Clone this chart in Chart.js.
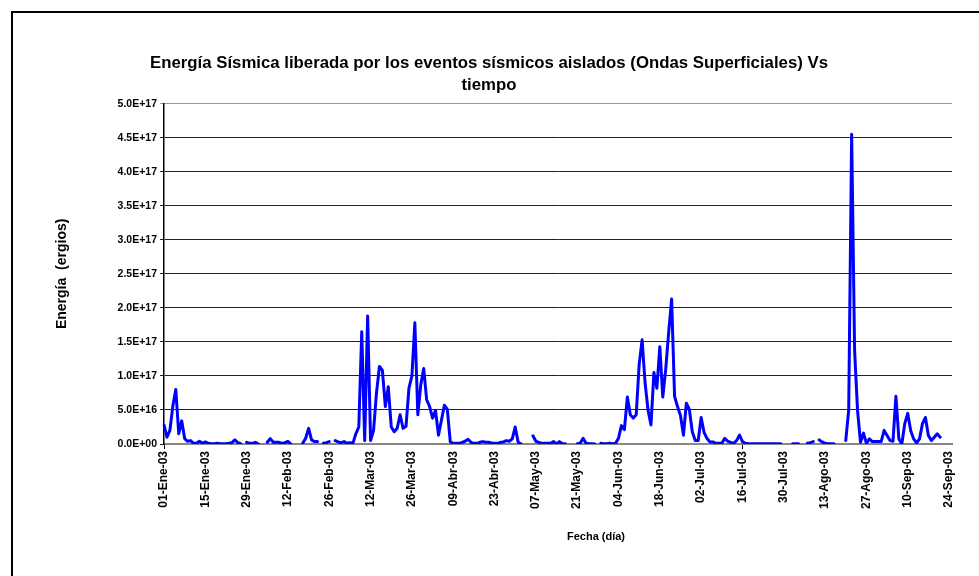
<!DOCTYPE html>
<html lang="es">
<head>
<meta charset="UTF-8">
<title>Energía Sísmica vs tiempo</title>
<script src="https://cdn.jsdelivr.net/npm/chart.js"></script>
<style>
  html, body { margin: 0; padding: 0; background: #fff; }
  #wrap { position: relative; width: 979px; height: 576px; overflow: hidden; }
  #marco { position: absolute; left: 11px; top: 11px; width: 1000px; height: 620px;
           border: 2px solid #000; pointer-events: none; }
</style>
</head>
<body>
<div id="wrap">
  <canvas id="grafico" width="979" height="576"></canvas>
  <div id="marco"></div>
</div>
<script>
// etiquetas visibles del eje X (una cada 14 días)
const etiquetasEje = ['01-Ene-03', '15-Ene-03', '29-Ene-03', '12-Feb-03', '26-Feb-03', '12-Mar-03',
  '26-Mar-03', '09-Abr-03', '23-Abr-03', '07-May-03', '21-May-03', '04-Jun-03', '18-Jun-03',
  '02-Jul-03', '16-Jul-03', '30-Jul-03', '13-Ago-03', '27-Ago-03', '10-Sep-03', '24-Sep-03'];

// etiquetas del eje Y
const etiquetasY = ['0.0E+00', '5.0E+16', '1.0E+17', '1.5E+17', '2.0E+17', '2.5E+17',
  '3.0E+17', '3.5E+17', '4.0E+17', '4.5E+17', '5.0E+17'];

const meses = ['Ene', 'Feb', 'Mar', 'Abr', 'May', 'Jun', 'Jul', 'Ago', 'Sep', 'Oct', 'Nov', 'Dic'];
const numDias = 268; // 01-Ene-03 .. 25-Sep-03

// energía diaria en unidades de 1E+16 ergios (null = sin eventos)
const energia1e16 = [
  2.8, 1.0, 2.0, 5.6, 8.0, 1.5, 3.4, 0.8, 0.4, 0.5,          // 0
  0.1, 0.1, 0.4, 0.1, 0.3, 0.1, 0.05, 0.05, 0.1, 0.05,       // 10
  0.05, 0.05, 0.1, 0.2, 0.6, 0.2, 0.05, null, 0.25, 0.1,     // 20
  0.1, 0.25, 0.0, null, null, 0.25, 0.8, 0.25, 0.25, 0.25,   // 30
  0.1, 0.2, 0.4, 0.0, null, null, null, 0.1, 0.85, 2.3,      // 40
  0.6, 0.35, 0.35, null, 0.1, 0.2, 0.35, null, 0.5, 0.3,     // 50
  0.2, 0.35, 0.1, 0.2, 0.1, 1.5, 2.5, 16.5, 0.5, 18.8,       // 60
  0.5, 2.0, 7.5, 11.4, 10.8, 5.5, 8.4, 2.5, 1.8, 2.3,        // 70
  4.3, 2.3, 2.6, 8.2, 10.0, 17.8, 4.3, 8.7, 11.1, 6.5,       // 80
  5.5, 3.8, 4.9, 1.3, 3.5, 5.7, 5.1, 0.3, 0.1, 0.1,          // 90
  0.1, 0.25, 0.4, 0.7, 0.25, 0.1, 0.1, 0.25, 0.35, 0.25,     // 100
  0.25, 0.15, 0.1, 0.1, 0.25, 0.3, 0.5, 0.4, 0.75, 2.5,      // 110
  0.25, 0.0, null, null, null, 1.2, 0.4, 0.25, 0.1, 0.1,     // 120
  0.1, 0.1, 0.35, 0.0, 0.35, 0.05, 0.05, null, null, null,   // 130
  0.05, 0.1, 0.85, 0.1, 0.05, 0.05, 0.0, null, 0.1, 0.05,    // 140
  0.05, 0.1, 0.05, 0.1, 0.85, 2.7, 2.1, 6.9, 4.3, 3.8,       // 150
  4.3, 11.7, 15.3, 9.0, 5.0, 2.8, 10.5, 8.2, 14.3, 6.9,      // 160
  11.0, 16.4, 21.3, 7.0, 5.5, 4.2, 1.3, 6.0, 5.1, 1.8,       // 170
  0.5, 0.5, 3.9, 1.7, 0.8, 0.3, 0.3, 0.1, 0.1, 0.1,          // 180
  0.85, 0.4, 0.25, 0.1, 0.5, 1.3, 0.35, 0.1, 0.05, 0.05,     // 190
  0.05, 0.05, 0.05, 0.05, 0.05, 0.05, 0.05, 0.05, 0.05, 0.05, // 200
  null, null, null, 0.05, 0.05, 0.05, null, null, 0.1, 0.2,  // 210
  0.35, null, 0.6, 0.3, 0.1, 0.05, 0.05, 0.05, null, null,   // 220
  null, 0.5, 5.0, 45.5, 13.7, 4.9, 0.25, 1.6, 0.1, 0.75,     // 230
  0.35, 0.35, 0.35, 0.35, 2.0, 1.25, 0.5, 0.4, 7.0, 0.75,    // 240
  0.0, 3.0, 4.5, 2.0, 0.75, 0.15, 0.75, 3.0, 3.9, 1.25,      // 250
  0.5, 1.0, 1.5, 1.0, null, null, null, null                 // 260
];

// fechas de cada día (categorías)
const fechas = [];
for (let i = 0; i < numDias; i++) {
  const d = new Date(Date.UTC(2003, 0, 1 + i));
  fechas.push(String(d.getUTCDate()).padStart(2, '0') + '-' + meses[d.getUTCMonth()] + '-03');
}

const fuente = "'Liberation Sans', Arial, sans-serif";

// título del eje X, algo desplazado a la derecha como en el original
const tituloEjeX = {
  id: 'tituloEjeX',
  afterDraw(chart) {
    const { ctx, chartArea } = chart;
    ctx.save();
    ctx.font = "bold 11px " + fuente;
    ctx.fillStyle = '#000';
    ctx.textAlign = 'center';
    ctx.textBaseline = 'middle';
    ctx.fillText('Fecha (día)', (chartArea.left + chartArea.right) / 2 + 38, chartArea.bottom + 93);
    ctx.restore();
  }
};

new Chart(document.getElementById('grafico'), {
  type: 'line',
  data: {
    labels: fechas,
    datasets: [{
      label: 'Energía',
      data: energia1e16.map(v => v === null ? null : v * 1e16),
      borderColor: '#0000FF',
      borderWidth: 3,
      borderJoinStyle: 'round',
      borderCapStyle: 'round',
      pointRadius: 0,
      tension: 0,
      spanGaps: false
    }]
  },
  plugins: [tituloEjeX],
  options: {
    responsive: false,
    animation: false,
    layout: { padding: { left: 26, right: 27, top: 53, bottom: 28 } },
    plugins: {
      legend: { display: false },
      tooltip: { enabled: false },
      title: {
        display: true,
        text: ['Energía Sísmica liberada por los eventos sísmicos aislados (Ondas Superficiales) Vs', 'tiempo'],
        color: '#000',
        font: { family: fuente, size: 16.8, weight: 'bold', lineHeight: 1.27 },
        padding: { top: 0, bottom: 8 }
      }
    },
    scales: {
      x: {
        type: 'category',
        afterFit: s => { s.height = 104; },
        border: { display: true, color: '#888', width: 2 },
        grid: {
          drawOnChartArea: false,
          drawTicks: true,
          tickLength: 5,
          color: ctx => (ctx.index % 14 === 0 ? '#000' : 'rgba(0,0,0,0)')
        },
        ticks: {
          autoSkip: false,
          maxRotation: 90,
          minRotation: 90,
          padding: 2,
          color: '#000',
          font: { family: fuente, size: 12, weight: 'bold' },
          callback: (v, i) => (i % 14 === 0 ? etiquetasEje[i / 14] : null)
        },
        title: { display: false }
      },
      y: {
        min: 0,
        max: 5e17,
        afterFit: s => { s.width = 138; },
        border: { display: true, color: '#000', width: 1.5 },
        grid: {
          color: ctx => (ctx.tick && ctx.tick.value === 5e17 ? '#999' : '#222'),
          lineWidth: 1,
          tickLength: 4
        },
        ticks: {
          stepSize: 5e16,
          padding: 3,
          color: '#000',
          font: { family: fuente, size: 10.5, weight: 'bold' },
          callback: (v, i) => etiquetasY[i]
        },
        title: {
          display: true,
          text: 'Energía  (ergios)',
          color: '#000',
          font: { family: fuente, size: 14, weight: 'bold' },
          padding: { top: 28, bottom: 4 }
        }
      }
    }
  }
});
</script>
</body>
</html>
